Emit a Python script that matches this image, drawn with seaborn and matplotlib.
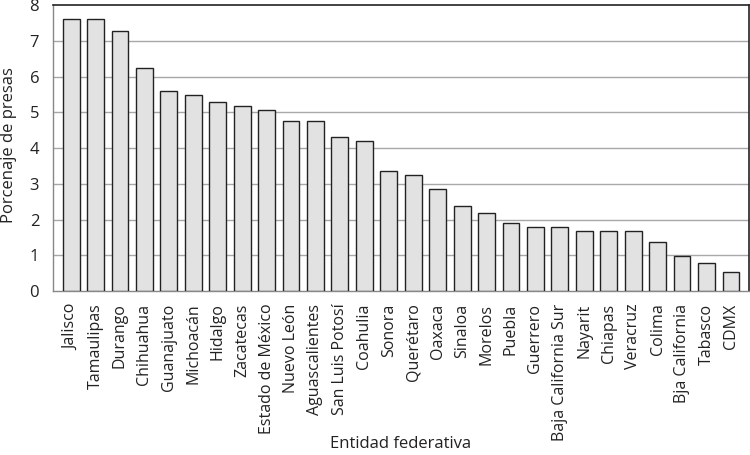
import matplotlib
matplotlib.use("Agg")
import matplotlib.pyplot as plt
import seaborn as sns
import pandas as pd
import numpy as np

entidades = ["Jalisco", "Tamaulipas", "Durango", "Chihuahua", "Guanajuato", "Michoacán",
             "Hidalgo", "Zacatecas", "Estado de México", "Nuevo León", "Aguascalientes",
             "San Luis Potosí", "Coahulia", "Sonora", "Querétaro", "Oaxaca", "Sinaloa",
             "Morelos", "Puebla", "Guerrero", "Baja California Sur", "Nayarit", "Chiapas",
             "Veracruz", "Colima", "Bja California", "Tabasco", "CDMX"]
porcentaje = [7.6, 7.6, 7.28, 6.23, 5.6, 5.48, 5.29, 5.18, 5.07, 4.75, 4.75, 4.31, 4.2,
              3.35, 3.25, 2.86, 2.37, 2.18, 1.91, 1.8, 1.8, 1.69, 1.69, 1.69, 1.38,
              0.99, 0.77, 0.54]
y_ticks = [0, 1, 2, 3, 4, 5, 6, 7, 8]

df = pd.DataFrame({"entidad": entidades, "pct": porcentaje})

sns.set_style("white")
plt.rcParams["font.family"] = ["Open Sans", "DejaVu Sans"]

fig = plt.figure(figsize=(7.5, 4.55), dpi=100)
ax = fig.add_axes([0.0707, 0.3604, 0.928, 0.6286])

sns.barplot(data=df, x="entidad", y="pct", color="#e2e2e2", edgecolor="#222222",
            linewidth=1.0, width=0.69, saturation=1, ax=ax, zorder=3)

n = len(entidades)
lo, hi = -0.74, n - 1 + 0.74
ax.set_xlim(lo, hi)
ax.set_ylim(0, 8)
ax.set_yticks(y_ticks)
ax.set_yticklabels([str(v) for v in y_ticks], fontsize=12, color="#222222")
for v in y_ticks[1:-1]:
    ax.axhline(v, color="#a8a8a8", linewidth=1.0, zorder=1)

ax.set_xticks(range(n))
ax.set_xticklabels(entidades, rotation=90, fontsize=11.5, color="#222222")
ax.tick_params(axis="x", which="major", length=0, pad=9)
ax.set_xticks([lo] + list(np.arange(n - 1) + 0.5) + [hi], minor=True)
ax.tick_params(axis="x", which="minor", length=7, color="#888888", width=1)
ax.tick_params(axis="y", length=7, color="#888888", width=1, pad=3)

for s in ["left", "bottom"]:
    ax.spines[s].set_color("#888888")
    ax.spines[s].set_linewidth(1.0)
for s in ["top", "right"]:
    ax.spines[s].set_color("#222222")
    ax.spines[s].set_linewidth(1.2)

ax.set_xlabel("Entidad federativa", fontsize=12, color="#222222")
ax.xaxis.set_label_coords(0.5, -0.508)
ax.set_ylabel("Porcenaje de presas", fontsize=12, color="#222222")
ax.yaxis.set_label_coords(-0.052, 0.51)

fig.savefig("out.png", dpi=100)
